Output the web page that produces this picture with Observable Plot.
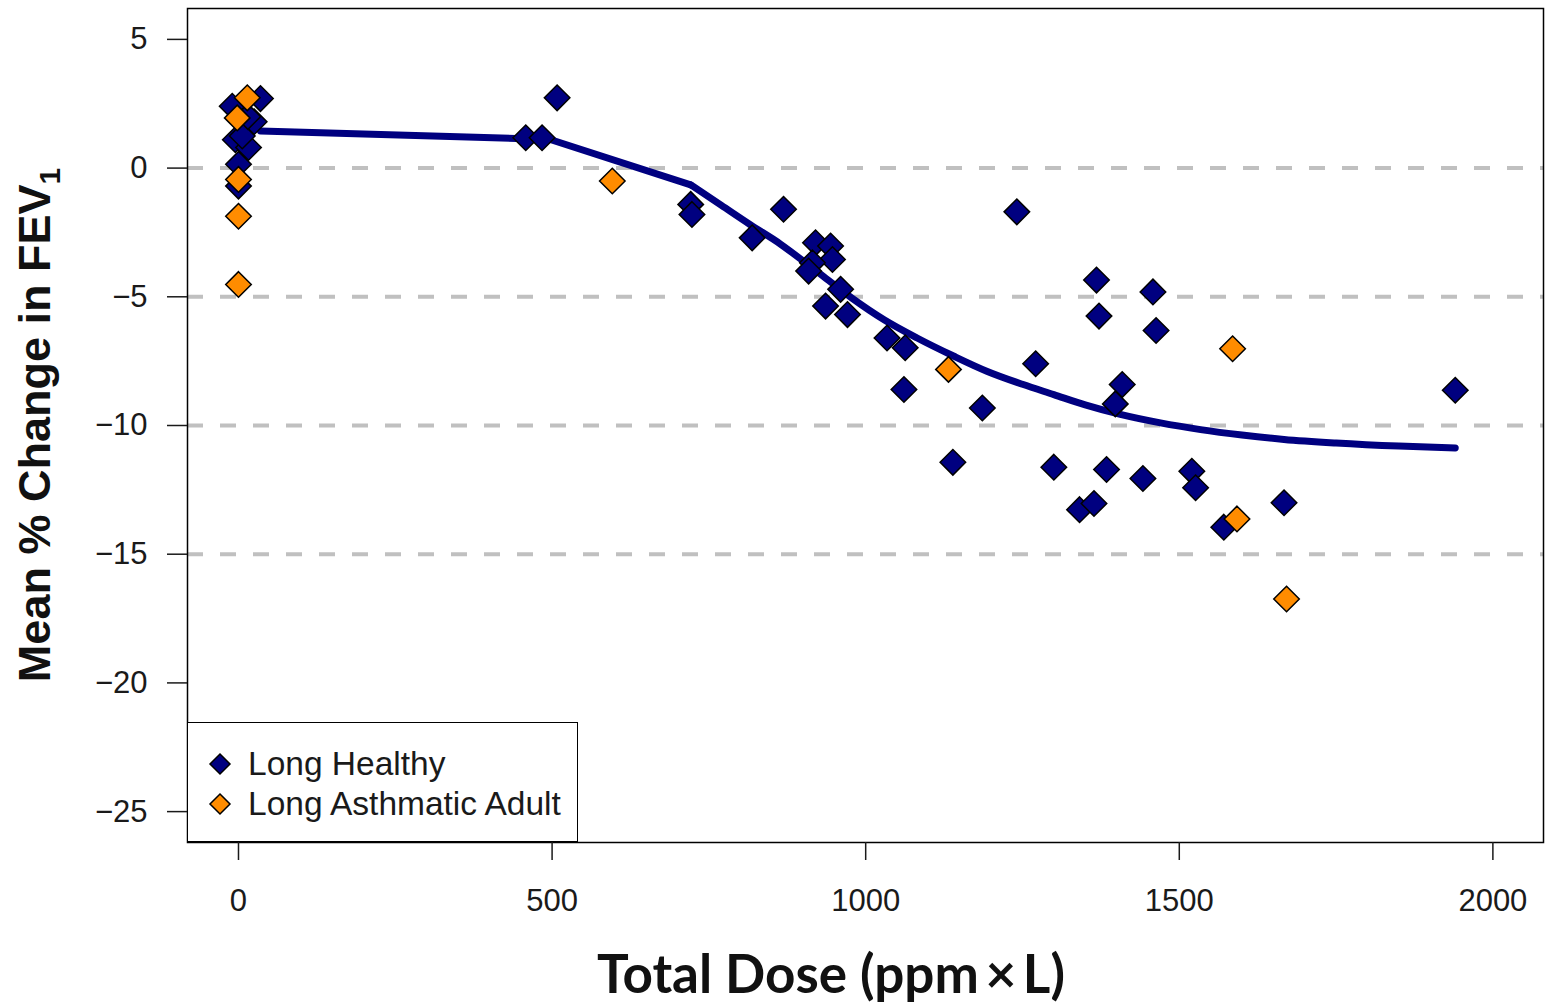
<!DOCTYPE html>
<html>
<head>
<meta charset="utf-8">
<script src="https://cdn.jsdelivr.net/npm/d3@7"></script>
<script src="https://cdn.jsdelivr.net/npm/@observablehq/plot@0.6"></script>
<style>
  html, body { margin: 0; padding: 0; background: #fff; }
  #wrap { position: relative; width: 1546px; height: 1004px; }
  #legend {
    position: absolute; left: 187px; top: 722px; width: 389px; height: 118px;
    border: 1.5px solid #000; background: #fff; box-sizing: content-box;
    font-family: "Liberation Sans", Arial, sans-serif; font-size: 33.5px; color: #1a1a1a;
  }
  .item { position: absolute; left: 20px; height: 40px; display: flex; align-items: center; }
  .item svg { width: 24px; height: 24px; margin-right: 16px; }
</style>
</head>
<body>
<div id="wrap">
  <div id="chart"></div>
  <div id="legend"></div>
</div>
<script>
// ---- data ----
const healthyDose = [35, -10, 25, -5, 16, 6, 0, 0, 15,
  508, 458, 484,
  721, 723, 869, 819, 920, 944, 947, 915, 909, 960, 936, 971, 1034, 1063,
  1061, 1186, 1241, 1368, 1458, 1372, 1463, 1271, 1409, 1398, 1139, 1300, 1384, 1442, 1520, 1526, 1341, 1364, 1571, 1667, 1940];
const healthyFev = [2.7, 2.4, 1.8, 1.1, 0.8, 1.25, 0.15, -0.7, 2.0,
  2.73, 1.18, 1.18,
  -1.41, -1.8, -1.6, -2.71, -2.9, -3.03, -3.55, -3.68, -4.0, -4.71, -5.36, -5.69, -6.6, -6.98,
  -8.6, -9.32, -1.7, -4.35, -4.81, -5.75, -6.31, -7.6, -8.41, -9.16, -11.43, -11.62, -11.71, -12.06, -11.78, -12.42, -13.27, -13.03, -13.95, -13.0, -8.63];
const asthmaDose = [14, -2, 0, 0, 0, 596, 1132, 1585, 1592, 1671];
const asthmaFev = [2.73, 1.95, -0.44, -1.87, -4.52, -0.5, -7.82, -7.02, -13.63, -16.74];
const fitDose = [35, 497, 721, 770, 816, 864, 900, 940, 978, 1030, 1082, 1140, 1194, 1250, 1300, 1350, 1406, 1470, 1534, 1600, 1667, 1750, 1850, 1940];
const fitFev = [1.44, 1.11, -0.65, -1.45, -2.2, -2.95, -3.6, -4.35, -5.05, -5.9, -6.6, -7.3, -7.9, -8.4, -8.8, -9.2, -9.57, -9.9, -10.16, -10.37, -10.54, -10.68, -10.8, -10.87];
const xTicks = [0, 500, 1000, 1500, 2000];
const yTicks = [5, 0, -5, -10, -15, -20, -25];
const gridLines = [0, -5, -10, -15];
const seriesNames = ["Long Healthy", "Long Asthmatic Adult"];
const seriesColors = ["#000080", "#FF8C00"];

const healthy = healthyDose.map((d, i) => ({dose: d, fev: healthyFev[i]}));
const asthma = asthmaDose.map((d, i) => ({dose: d, fev: asthmaFev[i]}));
const fit = fitDose.map((d, i) => ({dose: d, fev: fitFev[i]}));
const fitLow = fit.filter(d => d.dose <= 721);   // straight part of the fit
const fitHigh = fit.filter(d => d.dose >= 721);  // smooth part of the fit

const W = 1546, H = 1004;
const mL = 187, mR = 3, mT = 8, mB = 162;

const lineStyle = {x: "dose", y: "fev", stroke: seriesColors[0], strokeWidth: 7, strokeLinecap: "round", strokeLinejoin: "round"};

const chart = Plot.plot({
  width: W, height: H,
  marginLeft: mL, marginRight: mR, marginTop: mT, marginBottom: mB,
  style: {fontFamily: "'Liberation Sans', Arial, sans-serif", fontSize: "31px", color: "#1a1a1a", background: "#fff"},
  x: {domain: [-81.3, 2080.7]},
  y: {domain: [-26.2, 6.2]},
  marks: [
    Plot.ruleY(gridLines, {stroke: "#c0c0c0", strokeWidth: 4, strokeDasharray: "16,17"}),
    Plot.line(fitLow, {...lineStyle, curve: "linear"}),
    Plot.line(fitHigh, {...lineStyle, curve: "monotone-x"}),
    Plot.dot(healthy, {x: "dose", y: "fev", symbol: "diamond2", r: 11.5, fill: seriesColors[0], stroke: "#000", strokeWidth: 1.5}),
    Plot.dot(asthma, {x: "dose", y: "fev", symbol: "diamond2", r: 11.5, fill: seriesColors[1], stroke: "#000", strokeWidth: 1.5}),
    Plot.frame({stroke: "#000", strokeWidth: 1.5}),
    Plot.axisY({ticks: yTicks, tickSize: 20, tickPadding: 20, strokeWidth: 1.5, label: null}),
    Plot.axisX({ticks: xTicks, tickSize: 18, tickPadding: 28, strokeWidth: 1.5, label: null, tickFormat: d => String(d)})
  ]
});
document.getElementById("chart").appendChild(chart);

// axis titles
const svg = d3.select(chart);
const yl = svg.append("text")
  .attr("transform", `translate(50, ${(165 + 685) / 2}) rotate(-90)`)
  .attr("text-anchor", "middle")
  .style("font-family", "'Liberation Sans', Arial, sans-serif")
  .style("font-size", "45px").style("font-weight", "bold").attr("fill", "#111");
yl.append("tspan").text("Mean % Change in FEV");
yl.append("tspan").attr("font-size", "30px").attr("dy", "10").text("1");

svg.append("text")
  .attr("x", 831).attr("y", 993)
  .attr("text-anchor", "middle")
  .style("font-family", "Lato, 'Open Sans', sans-serif")
  .style("font-size", "53px").style("font-weight", "bold").attr("fill", "#111")
  .text("Total Dose (ppm\u2009\u00d7\u2009L)");

// legend
const leg = document.getElementById("legend");
seriesNames.forEach((name, i) => {
  const it = document.createElement("div");
  it.className = "item";
  it.style.top = (21 + i * 40) + "px";
  it.innerHTML = `<svg viewBox="-12 -12 24 24"><path d="M0,-10L10,0L0,10L-10,0Z" fill="${seriesColors[i]}" stroke="#000" stroke-width="1.5"/></svg><span>${name}</span>`;
  leg.appendChild(it);
});
</script>
</body>
</html>
